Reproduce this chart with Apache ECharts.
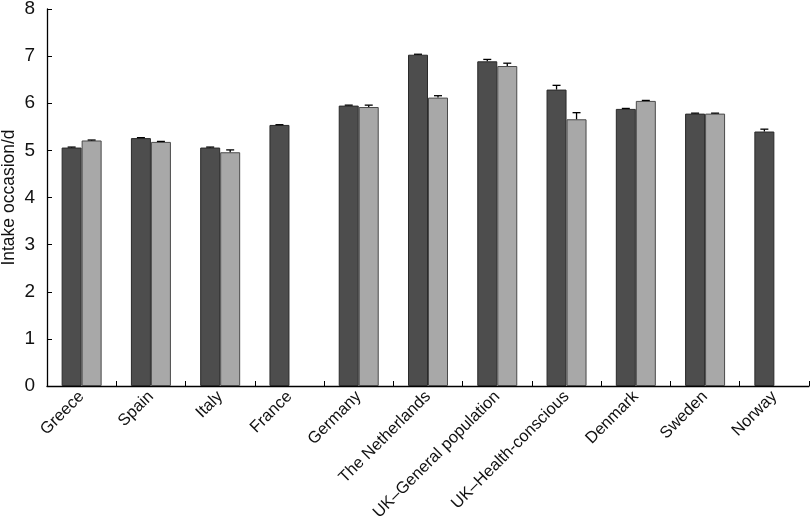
<!DOCTYPE html>
<html>
<head>
<meta charset="utf-8">
<script src="https://cdn.jsdelivr.net/npm/echarts@6/dist/echarts.min.js"></script>
<style>
  html, body { margin: 0; padding: 0; background: #fff; }
  #chart { width: 812px; height: 522px; }
</style>
</head>
<body>
<div id="chart"></div>
<script>
const categories = ['Greece', 'Spain', 'Italy', 'France', 'Germany', 'The Netherlands',
  'UK\u2013General population', 'UK\u2013Health-conscious', 'Denmark', 'Sweden', 'Norway'];
// dark bars / light bars, mean intake occasions per day
const darkValues = [5.06, 5.26, 5.06, 5.54, 5.95, 7.03, 6.89, 6.29, 5.88, 5.78, 5.40];
const lightValues = [5.21, 5.18, 4.96, null, 5.92, 6.12, 6.79, 5.66, 6.05, 5.78, null];
// upper error (SE)
const darkErr = [0.01, 0.01, 0.01, 0.005, 0.01, 0.01, 0.04, 0.09, 0.01, 0.01, 0.05];
const lightErr = [0.01, 0.01, 0.05, null, 0.04, 0.04, 0.06, 0.14, 0.01, 0.01, null];
const yTicks = [0, 1, 2, 3, 4, 5, 6, 7, 8];

const BAR_W = 20;

function errorSeries(values, errs, offset) {
  const data = [];
  values.forEach((v, i) => {
    if (v != null && errs[i] != null) data.push([i, v, v + errs[i]]);
  });
  return {
    type: 'custom',
    silent: true,
    z: 5,
    data: data,
    encode: { x: 0, y: [1, 2] },
    renderItem: function (params, api) {
      const lo = api.coord([api.value(0), api.value(1)]);
      const hi = api.coord([api.value(0), api.value(2)]);
      const x = lo[0] + offset;
      const half = 4;
      const st = { stroke: '#000', lineWidth: 1.3 };
      return {
        type: 'group',
        children: [
          { type: 'line', shape: { x1: x, y1: lo[1], x2: x, y2: hi[1] }, style: st },
          { type: 'line', shape: { x1: x - half, y1: hi[1], x2: x + half, y2: hi[1] }, style: st }
        ]
      };
    }
  };
}

const chart = echarts.init(document.getElementById('chart'), null, { renderer: 'canvas' });
chart.setOption({
  animation: false,
  backgroundColor: '#fff',
  textStyle: { fontFamily: 'Liberation Sans, Arial, sans-serif' },
  grid: { left: 47, right: 3, top: 9, bottom: 136, containLabel: false, outerBoundsMode: 'none' },
  xAxis: {
    type: 'category',
    data: categories,
    axisLine: { lineStyle: { color: '#000', width: 1.3 } },
    axisTick: { show: true, inside: true, length: 5, alignWithLabel: false, lineStyle: { color: '#000' } },
    axisLabel: { rotate: 45, interval: 0, fontSize: 16.5, color: '#111', margin: 8 }
  },
  yAxis: {
    type: 'value',
    min: 0,
    max: 8,
    interval: 1,
    name: 'Intake occasion/d',
    nameLocation: 'middle',
    nameGap: 29,
    nameMoveOverlap: false,
    nameTextStyle: { fontSize: 17.5, color: '#111' },
    axisLine: { show: true, lineStyle: { color: '#000', width: 1.3 } },
    axisTick: { show: true, inside: true, length: 5, lineStyle: { color: '#000' } },
    axisLabel: {
      fontSize: 19, color: '#111', margin: 12,
      formatter: v => (yTicks.indexOf(v) >= 0 ? String(v) : '')
    },
    splitLine: { show: false }
  },
  series: [
    {
      type: 'bar',
      data: darkValues,
      barWidth: BAR_W,
      barGap: '0%',
      itemStyle: { color: '#4d4d4d', borderColor: '#2a2a2a', borderWidth: 1 }
    },
    {
      type: 'bar',
      data: lightValues,
      barWidth: BAR_W,
      barGap: '0%',
      itemStyle: { color: '#a8a8a8', borderColor: '#4a4a4a', borderWidth: 1 }
    },
    errorSeries(darkValues, darkErr, -BAR_W / 2),
    errorSeries(lightValues, lightErr, BAR_W / 2)
  ]
});
</script>
</body>
</html>
